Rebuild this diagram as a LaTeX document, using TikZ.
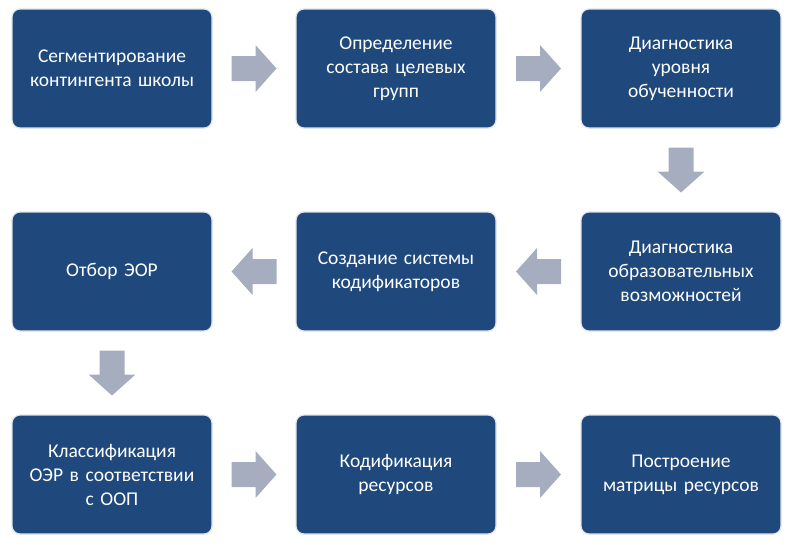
\documentclass[tikz,border=0pt]{standalone}
\usepackage{fontspec}
\setmainfont{Carlito}[WordSpace=0.8]
\usetikzlibrary{calc}
\definecolor{boxblue}{RGB}{31,73,125}
\definecolor{arrgray}{RGB}{166,173,191}
\definecolor{boxedge}{RGB}{225,228,234}
\tikzset{
  stepbox/.style={rectangle, rounded corners=8pt, fill=boxblue, draw=boxedge, line width=1.2pt,
    minimum width=200pt, minimum height=119pt, text width=194pt, align=center,
    text=white, font=\fontsize{19.5}{24}\selectfont, inner sep=0pt},
  arrfill/.style={fill=arrgray, draw=none}
}
\newcommand{\blockarr}[3]{%
  \fill[arrfill, shift={($(#1)!0.5!(#2)$)}, rotate=#3]
    (-22.5,-12.5) -- (1.5,-12.5) -- (1.5,-23.5) -- (22.5,0) -- (1.5,23.5) -- (1.5,12.5) -- (-22.5,12.5) -- cycle;}
\begin{document}
\begin{tikzpicture}[x=1pt,y=-1pt]
\useasboundingbox (0,0) rectangle (790,544);
\node[stepbox] (a1) at (112,68.5) {Сегментирование\\контингента школы};
\node[stepbox] (a2) at (396,68.5) {Определение\\состава целевых\\групп};
\node[stepbox] (a3) at (681,68.5) {Диагностика\\уровня\\обученности};
\node[stepbox] (b3) at (681,271.5) {Диагностика\\образовательных\\возможностей};
\node[stepbox] (b2) at (396,271.5) {Создание системы\\кодификаторов};
\node[stepbox] (b1) at (112,271.5) {Отбор ЭОР};
\node[stepbox] (c1) at (112,474.5) {Классификация\\ОЭР в соответствии\\с ООП};
\node[stepbox] (c2) at (396,474.5) {Кодификация\\ресурсов};
\node[stepbox] (c3) at (681,474.5) {Построение\\матрицы ресурсов};
\blockarr{a1}{a2}{0}
\blockarr{a2}{a3}{0}
\blockarr{a3}{b3}{-90}
\blockarr{b3}{b2}{180}
\blockarr{b2}{b1}{180}
\blockarr{b1}{c1}{-90}
\blockarr{c1}{c2}{0}
\blockarr{c2}{c3}{0}
\end{tikzpicture}
\end{document}
